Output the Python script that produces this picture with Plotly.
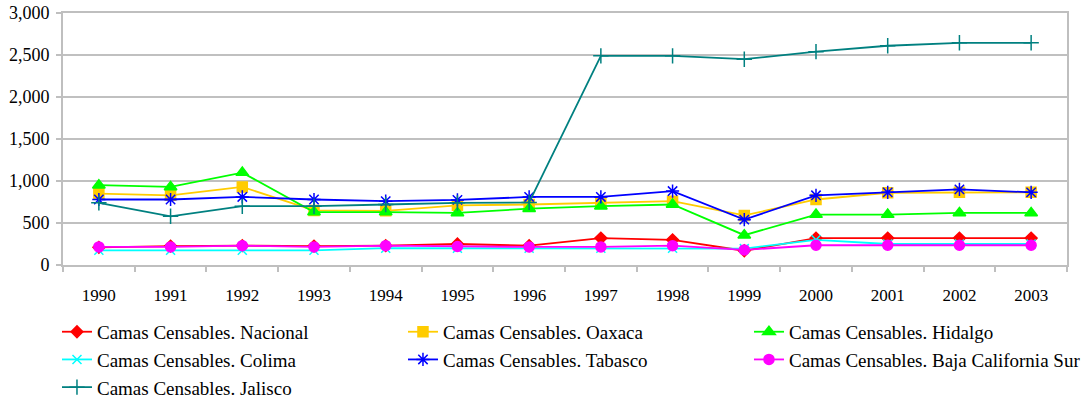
import plotly.graph_objects as go

years = ["1990","1991","1992","1993","1994","1995","1996","1997","1998","1999","2000","2001","2002","2003"]
nacional = [210, 225, 230, 225, 230, 250, 230, 320, 300, 170, 320, 320, 320, 320]
oaxaca = [850, 830, 930, 650, 645, 710, 720, 740, 760, 590, 780, 860, 865, 865]
hidalgo = [950, 930, 1100, 630, 630, 620, 670, 700, 720, 355, 600, 600, 620, 620]
colima = [175, 175, 175, 175, 200, 200, 200, 200, 200, 195, 300, 250, 250, 250]
tabasco = [780, 780, 810, 780, 760, 775, 810, 810, 880, 540, 830, 865, 900, 865]
baja = [215, 215, 230, 215, 230, 220, 215, 215, 230, 180, 235, 235, 235, 235]
jalisco = [740, 580, 700, 700, 720, 740, 745, 2490, 2490, 2450, 2540, 2610, 2645, 2645]

series = [
    ("Camas Censables. Nacional", nacional, "#FF0000", "diamond", 9),
    ("Camas Censables. Oaxaca", oaxaca, "#FFCC00", "square", 10),
    ("Camas Censables. Hidalgo", hidalgo, "#00FF00", "triangle-up", 11),
    ("Camas Censables. Colima", colima, "#00FFFF", "x-thin", 9),
    ("Camas Censables. Tabasco", tabasco, "#0000FF", "asterisk", 11),
    ("Camas Censables. Baja California Sur", baja, "#FF00FF", "circle", 10),
    ("Camas Censables. Jalisco", jalisco, "#008080", "cross-thin", 11),
]

fig = go.Figure()
for name, vals, color, sym, size in series:
    fig.add_trace(go.Scatter(
        x=years, y=vals, name=name, mode="lines+markers",
        line=dict(color=color, width=1.8),
        marker=dict(symbol=sym, size=size, color=color,
                    line=dict(color=color, width=1.5)),
    ))

font = "Liberation Serif"
fig.update_layout(
    width=1092, height=406,
    margin=dict(l=63, r=25, t=13, b=141, autoexpand=False),
    paper_bgcolor="white", plot_bgcolor="white",
    font=dict(family=font, color="black", size=17),
    showlegend=True,
    legend=dict(orientation="h", x=-0.006, xanchor="left", y=-0.19, yanchor="top",
                entrywidth=301, entrywidthmode="pixels",
                font=dict(family=font, size=19, color="black"),
                bgcolor="rgba(0,0,0,0)"),
    xaxis=dict(type="category", showgrid=False, showline=True, linecolor="#BFBFBF",
               linewidth=2, mirror=True, ticks="outside", tickson="boundaries",
               ticklen=5, tickcolor="#BFBFBF", tickwidth=1.5,
               ticklabelstandoff=14, tickfont=dict(family=font, size=17), range=[-0.5, 13.5]),
    yaxis=dict(range=[0, 3000], tickvals=[0, 500, 1000, 1500, 2000, 2500, 3000],
               tickformat=",d", showgrid=True, gridcolor="#C0C0C0", gridwidth=1.5,
               showline=True, linecolor="#BFBFBF", linewidth=2, mirror=True,
               ticks="outside", ticklen=5, tickcolor="#BFBFBF", tickwidth=1.5,
               zeroline=False, tickfont=dict(family=font, size=18), ticklabelstandoff=3),
)
fig.write_html("out.html", config={"displayModeBar": False},
               post_script="document.body.style.margin='0px';")
